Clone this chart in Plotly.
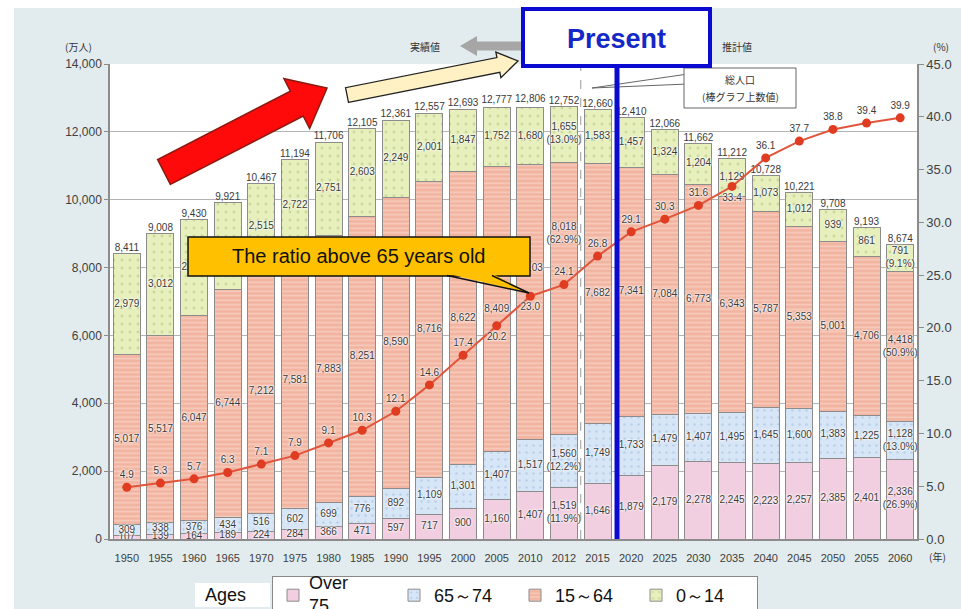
import plotly.graph_objects as go

# Population of Japan by age group (10,000 persons) and share of people aged 65+
years = ["1950", "1955", "1960", "1965", "1970", "1975", "1980", "1985", "1990", "1995",
         "2000", "2005", "2010", "2012", "2015", "2020", "2025", "2030", "2035", "2040",
         "2045", "2050", "2055", "2060"]
age_75_over = [107, 139, 164, 189, 224, 284, 366, 471, 597, 717, 900, 1160, 1407, 1519,
               1646, 1879, 2179, 2278, 2245, 2223, 2257, 2385, 2401, 2336]
age_65_74 = [309, 338, 376, 434, 516, 602, 699, 776, 892, 1109, 1301, 1407, 1517, 1560,
             1749, 1733, 1479, 1407, 1495, 1645, 1600, 1383, 1225, 1128]
age_15_64 = [5017, 5517, 6047, 6744, 7212, 7581, 7883, 8251, 8590, 8716, 8622, 8409, 8103,
             8018, 7682, 7341, 7084, 6773, 6343, 5787, 5353, 5001, 4706, 4418]
age_0_14 = [2979, 3012, 2843, 2554, 2515, 2722, 2751, 2603, 2249, 2001, 1847, 1752, 1680,
            1655, 1583, 1457, 1324, 1204, 1129, 1073, 1012, 939, 861, 791]
totals = [8411, 9008, 9430, 9921, 10467, 11194, 11706, 12105, 12361, 12557, 12693, 12777,
          12806, 12752, 12660, 12410, 12066, 11662, 11212, 10728, 10221, 9708, 9193, 8674]
ratio_65_over = [4.9, 5.3, 5.7, 6.3, 7.1, 7.9, 9.1, 10.3, 12.1, 14.6, 17.4, 20.2, 23.0, 24.1,
                 26.8, 29.1, 30.3, 31.6, 33.4, 36.1, 37.7, 38.8, 39.4, 39.9]
# shares (%) shown for 2012 and 2060, in order 75+, 65-74, 15-64, 0-14
share_years = {"2012": [11.9, 12.2, 62.9, 13.0], "2060": [26.9, 13.0, 50.9, 9.1]}
series_names = ["Over 75", "65～74", "15～64", "0～14"]

W, H = 961, 609
L, R, T, B = 110, 44, 64, 70
PW, PH = W - L - R, H - T - B


def px(x):
    return (x - L) / PW


def py(y):
    return (H - B - y) / PH


def path_px(points, close=True):
    s = "M " + " L ".join(f"{px(x):.5f},{py(y):.5f}" for x, y in points)
    return s + (" Z" if close else "")


def block_arrow(tail, tip, shaft_hw, head_hw, head_len):
    dx, dy = tip[0] - tail[0], tip[1] - tail[1]
    ln = (dx * dx + dy * dy) ** 0.5
    ux, uy = dx / ln, dy / ln
    nx, ny = -uy, ux
    hx, hy = tip[0] - ux * head_len, tip[1] - uy * head_len
    return [
        (tail[0] + nx * shaft_hw, tail[1] + ny * shaft_hw),
        (hx + nx * shaft_hw, hy + ny * shaft_hw),
        (hx + nx * head_hw, hy + ny * head_hw),
        tip,
        (hx - nx * head_hw, hy - ny * head_hw),
        (hx - nx * shaft_hw, hy - ny * shaft_hw),
        (tail[0] - nx * shaft_hw, tail[1] - ny * shaft_hw),
    ]


LABEL_FONT = "Liberation Sans, Arial, sans-serif"
CJK_FONT = "Noto Sans CJK JP, sans-serif"
GLOW = "0px 0px 2px #ffffff, 0px 0px 2px #ffffff, 0px 0px 3px #ffffff"

styles = [
    dict(color="#f2cfe0", pattern=None),
    dict(color="#d7e6f6", pattern=dict(shape=".", fgcolor="#9fb9dc", size=7, solidity=0.12)),
    dict(color="#f2b4a0", pattern=dict(shape="-", fgcolor="#fbe4dc", size=4.5, solidity=0.35)),
    dict(color="#e7f0bd", pattern=dict(shape=".", fgcolor="#a9c07a", size=8, solidity=0.1)),
]
series = [age_75_over, age_65_74, age_15_64, age_0_14]

fig = go.Figure()

for si, (name, vals, st) in enumerate(zip(series_names, series, styles)):
    marker = dict(color=st["color"], line=dict(color="#8c8c8c", width=1))
    if st["pattern"]:
        marker["pattern"] = st["pattern"]
    # the first legend entry gets its two-line caption as separate text below
    fig.add_trace(go.Bar(x=years, y=vals, name=name if si else "", marker=marker,
                         hoverinfo="skip"))

# 15-64 labels lifted clear of the ratio line (in 10,000 persons)
label_lift = {"2010": 1000, "2012": 1900}

# segment value labels, centred in each stacked segment
base = [0] * len(years)
for si, vals in enumerate(series):
    ys, texts = [], []
    for i, v in enumerate(vals):
        lift = label_lift.get(years[i], 0) if si == 2 else 0
        ys.append(base[i] + v / 2 + lift)
        t = f"{v:,}"
        if years[i] in share_years:
            t += f"<br>({share_years[years[i]][si]:.1f}%)"
        texts.append(t)
        base[i] += v
    fig.add_trace(go.Scatter(
        x=years, y=ys, mode="text", text=texts, showlegend=False, hoverinfo="skip",
        textfont=dict(family=LABEL_FONT, size=10, color="#3a3a3a", shadow=GLOW)))

# total population above each bar
fig.add_trace(go.Scatter(
    x=years, y=totals, mode="text", text=[f"{v:,}" for v in totals],
    textposition="top center", showlegend=False, hoverinfo="skip",
    textfont=dict(family=LABEL_FONT, size=10, color="#3a3a3a")))

# share of population aged 65 and over
ratio_pos = ["top center"] * len(years)
for yr in ("2005", "2010", "2035"):
    ratio_pos[years.index(yr)] = "bottom center"
fig.add_trace(go.Scatter(
    x=years, y=ratio_65_over, yaxis="y2", mode="lines+markers+text",
    text=[f"{v:.1f}" for v in ratio_65_over], textposition=ratio_pos,
    line=dict(color="#e0553c", width=2), marker=dict(color="#e03c22", size=9),
    textfont=dict(family=LABEL_FONT, size=10, color="#3a3a3a", shadow=GLOW),
    showlegend=False, hoverinfo="skip", cliponaxis=False))

shapes = [
    # white outer strips
    dict(type="rect", xref="paper", yref="paper", x0=px(0), x1=px(W), y0=py(8), y1=py(0),
         fillcolor="white", line_width=0, layer="below"),
    dict(type="rect", xref="paper", yref="paper", x0=px(0), x1=px(14), y0=py(H), y1=py(0),
         fillcolor="white", line_width=0, layer="below"),
    # boundary between actual and projected values
    dict(type="line", xref="x", yref="paper", x0=13.5, x1=13.5, y0=0, y1=py(68),
         line=dict(color="#9a9a9a", width=1, dash="dash"), layer="above"),
    # grey arrow next to 実績値
    dict(type="path", xref="paper", yref="paper",
         path=path_px(block_arrow((521, 46), (460, 46), 4.5, 10, 17)),
         fillcolor="#a6a6a6", line_width=0),
    # total population callout
    dict(type="path", xref="paper", yref="paper",
         path=path_px([(688, 74), (592, 88), (688, 84)]),
         fillcolor="white", line=dict(color="#666", width=1), layer="above"),
    dict(type="rect", xref="paper", yref="paper", x0=px(684), x1=px(796), y0=py(108), y1=py(68),
         fillcolor="white", line=dict(color="#666", width=1), layer="above"),
    # present marker
    dict(type="line", xref="paper", yref="paper", x0=px(617), x1=px(617), y0=py(539), y1=py(66),
         line=dict(color="#0a0ad0", width=5), layer="above"),
    dict(type="rect", xref="paper", yref="paper", x0=px(523), x1=px(710), y0=py(66), y1=py(9),
         fillcolor="white", line=dict(color="#0a0ad0", width=4), layer="above"),
    # red and cream arrows
    dict(type="path", xref="paper", yref="paper",
         path=path_px(block_arrow((164, 172), (327, 88), 14, 28, 34)),
         fillcolor="#ff0a0a", line=dict(color="#8a1a10", width=1.5), layer="above"),
    dict(type="path", xref="paper", yref="paper",
         path=path_px(block_arrow((347, 95), (518, 61), 7.5, 13, 20)),
         fillcolor="#fff1c4", line=dict(color="#222", width=1.3), layer="above"),
    # ratio callout box with pointer
    dict(type="rect", xref="paper", yref="paper", x0=px(188), x1=px(530), y0=py(276), y1=py(237),
         fillcolor="#ffc000", line=dict(color="#111", width=1.5), layer="above"),
    dict(type="path", xref="paper", yref="paper",
         path=path_px([(447, 273.5), (529, 293), (492, 273.5)]),
         fillcolor="#ffc000", line_width=0, layer="above"),
    dict(type="line", xref="paper", yref="paper", x0=px(447), y0=py(275.5), x1=px(529), y1=py(293),
         line=dict(color="#111", width=1.5), layer="above"),
    dict(type="line", xref="paper", yref="paper", x0=px(492), y0=py(275.5), x1=px(529), y1=py(293),
         line=dict(color="#111", width=1.5), layer="above"),
    # white box behind "Ages"
    dict(type="rect", xref="paper", yref="paper", x0=px(195), x1=px(270), y0=py(607), y1=py(583),
         fillcolor="white", line_width=0),
]


def note(x, y, text, size=10, color="#333", family=CJK_FONT, xanchor="center", **kw):
    return dict(xref="paper", yref="paper", x=px(x), y=py(y), text=text, showarrow=False,
                xanchor=xanchor, yanchor="middle",
                font=dict(size=size, color=color, family=family), **kw)


over_word, over_num = series_names[0].split()
annotations = [
    note(78, 46, "(万人)", size=10),
    note(941, 46, "(%)", size=10),
    note(425, 47, "実績値", size=10),
    note(737, 47, "推計値", size=10),
    note(937, 556, "(年)", size=10),
    note(740, 79, "総人口", size=10),
    note(740, 96, "(棒グラフ上数値)", size=10),
    note(616, 39, "<b>Present</b>", size=27, color="#1428c8", family=LABEL_FONT),
    note(359, 256, "The ratio above 65 years old", size=20, color="#111", family=LABEL_FONT),
    note(225, 595, "Ages", size=18, color="#111", family=LABEL_FONT),
    note(307, 583, over_word, size=18, color="#111", family=LABEL_FONT, xanchor="left"),
    note(307, 606, over_num, size=18, color="#111", family=LABEL_FONT, xanchor="left"),
]

axis_font = dict(family=LABEL_FONT, size=12, color="#404040")

fig.update_layout(
    width=W, height=H,
    margin=dict(l=L, r=R, t=T, b=B, autoexpand=False),
    paper_bgcolor="#e2ecee", plot_bgcolor="white",
    barmode="stack", bargap=0.2,
    shapes=shapes, annotations=annotations,
    xaxis=dict(type="category", range=[-0.5, 23.5], showgrid=False, showline=True,
               linecolor="#8c8c8c", linewidth=1.5, ticks="", tickangle=0,
               ticklabelstandoff=8,
               tickfont=dict(family=LABEL_FONT, size=11, color="#404040")),
    yaxis=dict(range=[0, 14000], tickvals=list(range(0, 14001, 2000)), tickformat=",",
               showgrid=True, gridcolor="#b4b4b4", gridwidth=1, showline=True,
               linecolor="#8c8c8c", linewidth=1.5, ticks="outside", ticklen=4,
               tickcolor="#8c8c8c", tickfont=axis_font, zeroline=False),
    yaxis2=dict(range=[0, 45], tickvals=list(range(0, 46, 5)), tickformat=".1f",
                overlaying="y", side="right", showgrid=False, showline=True,
                linecolor="#8c8c8c", linewidth=1.5, ticks="outside", ticklen=5,
                tickcolor="#8c8c8c", tickfont=dict(family=LABEL_FONT, size=13, color="#404040"),
                zeroline=False),
    legend=dict(orientation="h", x=px(272), xanchor="left", y=py(576), yanchor="top",
                bgcolor="white", bordercolor="#888", borderwidth=1, traceorder="normal",
                font=dict(family=LABEL_FONT, size=18, color="#111"), itemwidth=30,
                entrywidth=76, entrywidthmode="pixels"),
    showlegend=True,
)

fig.write_html("out.html")
